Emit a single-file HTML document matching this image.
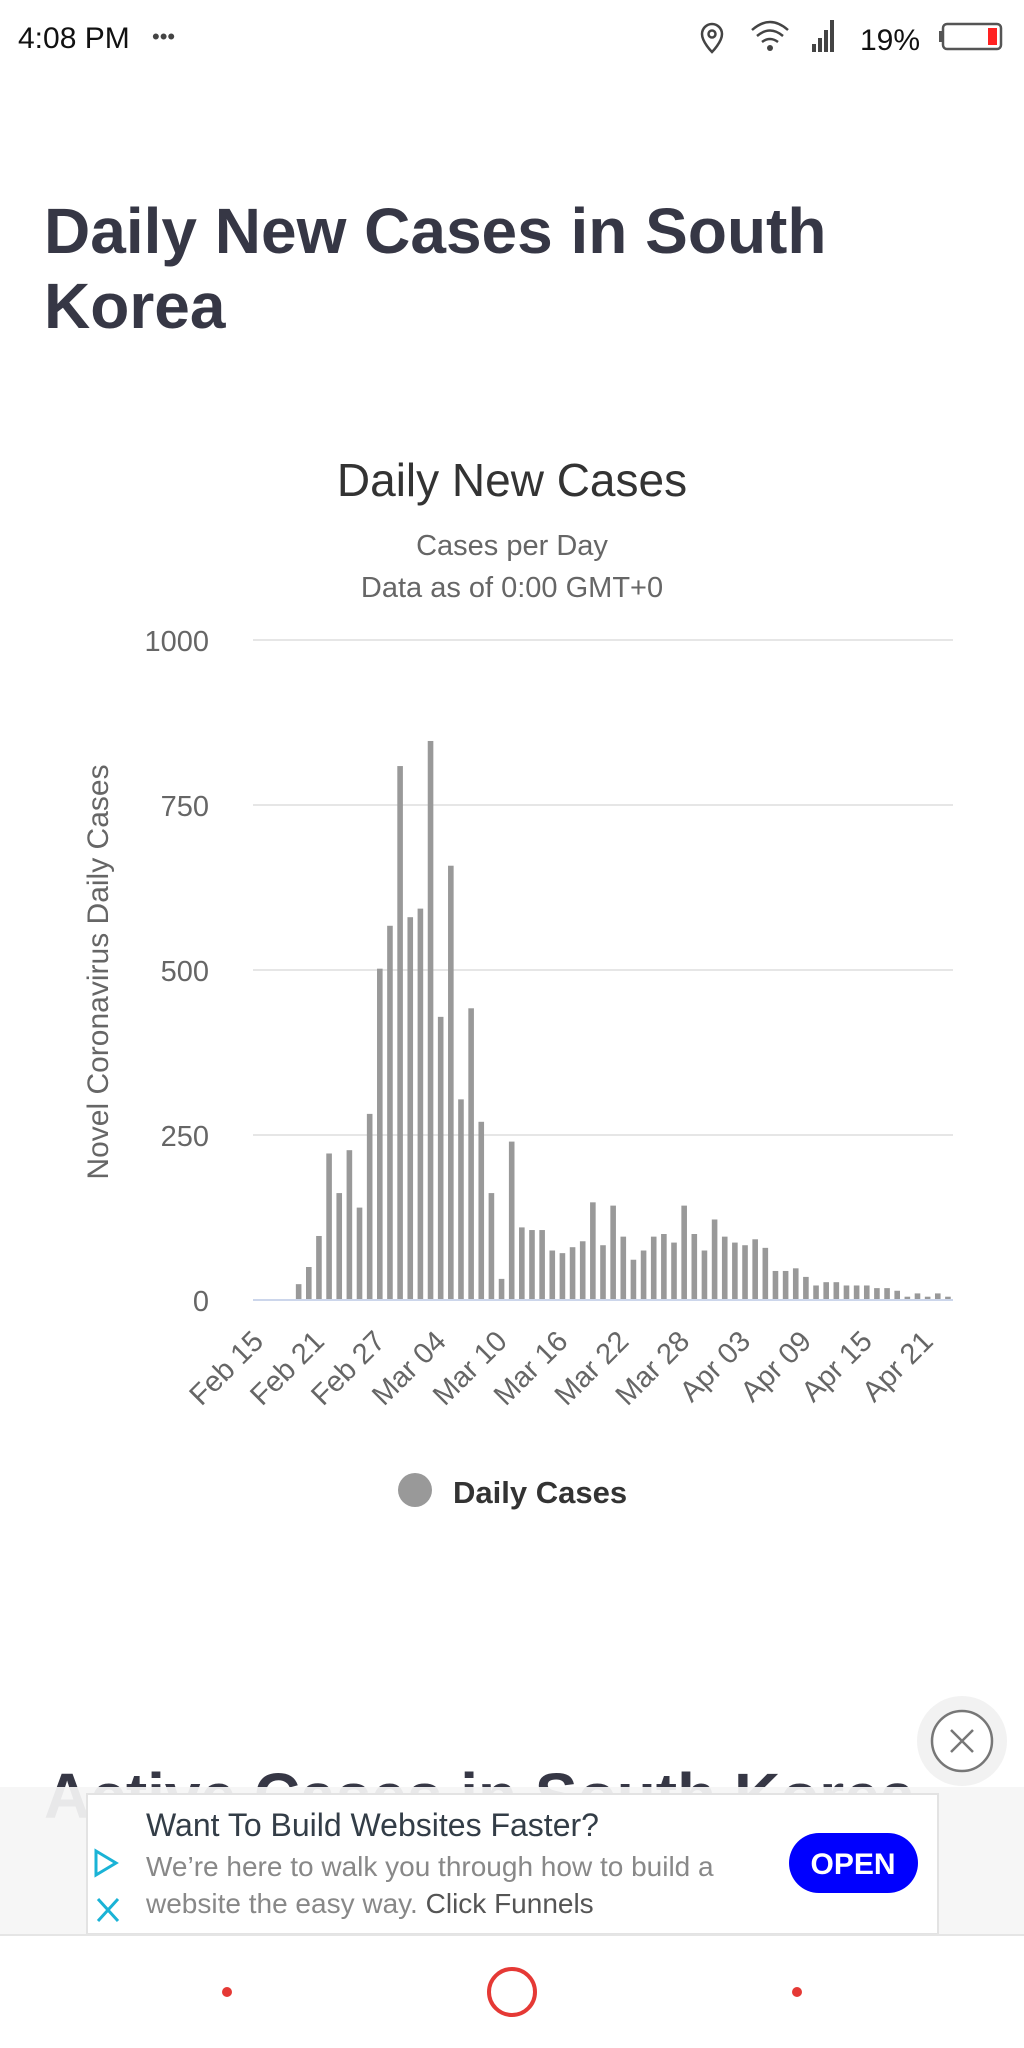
<!DOCTYPE html>
<html><head><meta charset="utf-8"><style>
html,body{margin:0;padding:0;background:#fff;width:1024px;height:2048px;overflow:hidden}
svg{display:block;font-family:"Liberation Sans",sans-serif}
</style></head><body>
<svg width="1024" height="2048" viewBox="0 0 1024 2048" xmlns="http://www.w3.org/2000/svg">
<text x="18" y="48" font-size="30" fill="#111">4:08 PM</text>
<text x="152" y="44" font-size="22" fill="#444">•••</text>
<g fill="none" stroke="#444" stroke-width="2.5">
<path d="M712 24 a10 10 0 0 1 10 10 c0 8 -10 18 -10 18 c0 0 -10 -10 -10 -18 a10 10 0 0 1 10 -10z"/>
<circle cx="712" cy="34" r="3.5"/>
<path d="M752 30 q18 -16 36 0 M757 36 q13 -11 26 0 M762 42 q8 -6 16 0"/>
</g>
<circle cx="770" cy="48" r="3" fill="#444"/>
<g fill="#444"><rect x="812" y="44" width="4" height="8"/><rect x="818" y="38" width="4" height="14"/><rect x="824" y="30" width="4" height="22"/><rect x="830" y="20" width="4" height="32"/></g>
<text x="860" y="50" font-size="30" fill="#111">19%</text>
<rect x="943" y="24" width="58" height="25" rx="4" fill="none" stroke="#555" stroke-width="2.5"/>
<rect x="939" y="31" width="4" height="11" fill="#555"/>
<rect x="988" y="28" width="9" height="17" fill="#f22"/>
<text x="44" y="253" font-size="64" font-weight="bold" fill="#363745">Daily New Cases in South</text>
<text x="44" y="328" font-size="64" font-weight="bold" fill="#363745">Korea</text>
<text x="512" y="496" font-size="46" fill="#333" text-anchor="middle">Daily New Cases</text>
<text x="512" y="555" font-size="29" fill="#666" text-anchor="middle">Cases per Day</text>
<text x="512" y="597" font-size="29" fill="#666" text-anchor="middle">Data as of 0:00 GMT+0</text>
<g stroke="#e6e6e6" stroke-width="2">
<line x1="253" y1="640" x2="953" y2="640"/><line x1="253" y1="805" x2="953" y2="805"/>
<line x1="253" y1="970" x2="953" y2="970"/><line x1="253" y1="1135" x2="953" y2="1135"/>
</g>
<g font-size="29" fill="#666" text-anchor="end">
<text x="209" y="651">1000</text><text x="209" y="816">750</text><text x="209" y="981">500</text><text x="209" y="1146">250</text><text x="209" y="1311">0</text>
</g>
<text transform="translate(108,972) rotate(-90)" font-size="30" fill="#666" text-anchor="middle">Novel Coronavirus Daily Cases</text>
<g id="bars" fill="#999"></g>
<line x1="253" y1="1300" x2="953" y2="1300" stroke="#ccd6eb" stroke-width="2"/>
<g id="xl" font-size="29" fill="#666"></g>
<circle cx="415" cy="1490" r="17" fill="#999"/>
<text x="453" y="1503" font-size="31" font-weight="bold" fill="#333">Daily Cases</text>
<text x="44" y="1818" font-size="64" font-weight="bold" fill="#363745">Active Cases in South Korea</text>
<rect x="0" y="1787" width="1024" height="148" fill="#f5f5f5" fill-opacity="0.93"/>
<rect x="87" y="1794" width="851" height="140" fill="#fff" stroke="#e3e3e3" stroke-width="2"/>
<text x="146" y="1836" font-size="32" fill="#333d47">Want To Build Websites Faster?</text>
<text x="146" y="1876" font-size="28" fill="#888">We’re here to walk you through how to build a</text>
<text x="146" y="1913" font-size="28" fill="#888">website the easy way. <tspan fill="#555">Click Funnels</tspan></text>
<path d="M96 1851 l20 12 l-20 12 z" fill="none" stroke="#1ab3d6" stroke-width="3"/>
<path d="M98 1899 l20 22 M118 1899 l-20 22" stroke="#1ab3d6" stroke-width="3"/>
<rect x="789" y="1833" width="129" height="60" rx="30" fill="#0000ff"/>
<text x="853" y="1874" font-size="30" font-weight="bold" fill="#fff" text-anchor="middle">OPEN</text>
<circle cx="962" cy="1741" r="45" fill="#f2f2f2"/>
<circle cx="962" cy="1741" r="30" fill="#fff" stroke="#777" stroke-width="2.5"/>
<path d="M951 1730 l22 22 M973 1730 l-22 22" stroke="#777" stroke-width="2.5"/>
<rect x="0" y="1935" width="1024" height="113" fill="#fff"/>
<line x1="0" y1="1935" x2="1024" y2="1935" stroke="#e5e5e5" stroke-width="2"/>
<circle cx="227" cy="1992" r="5" fill="#e53935"/>
<circle cx="797" cy="1992" r="5" fill="#e53935"/>
<circle cx="512" cy="1992" r="23" fill="none" stroke="#e53935" stroke-width="4"/>
</svg>
<script>
var v=[24,50,97,222,162,227,140,282,502,567,809,580,593,847,429,658,304,442,270,162,32,240,110,106,106,75,71,80,89,148,83,143,96,61,75,96,100,87,143,100,75,122,96,87,83,92,79,44,44,48,35,22,27,27,22,22,22,18,18,14,5,10,5,10,5];
var ns="http://www.w3.org/2000/svg",g=document.getElementById('bars'),cw=700/69;
v.forEach(function(d,k){var i=k+4,cx=253+(i+0.5)*cw,h=d*0.66;var r=document.createElementNS(ns,'rect');
r.setAttribute('x',(cx-2.8).toFixed(2));r.setAttribute('y',(1300-h).toFixed(2));r.setAttribute('width',5.6);r.setAttribute('height',h.toFixed(2));g.appendChild(r);});
var L=["Feb 15","Feb 21","Feb 27","Mar 04","Mar 10","Mar 16","Mar 22","Mar 28","Apr 03","Apr 09","Apr 15","Apr 21"],xl=document.getElementById('xl');
L.forEach(function(s,j){var i=j*6,cx=253+(i+0.5)*cw+7;var t=document.createElementNS(ns,'text');t.setAttribute('text-anchor','end');
t.setAttribute('transform','translate('+cx.toFixed(1)+',1343) rotate(-45)');t.textContent=s;xl.appendChild(t);});
</script>
</body></html>
